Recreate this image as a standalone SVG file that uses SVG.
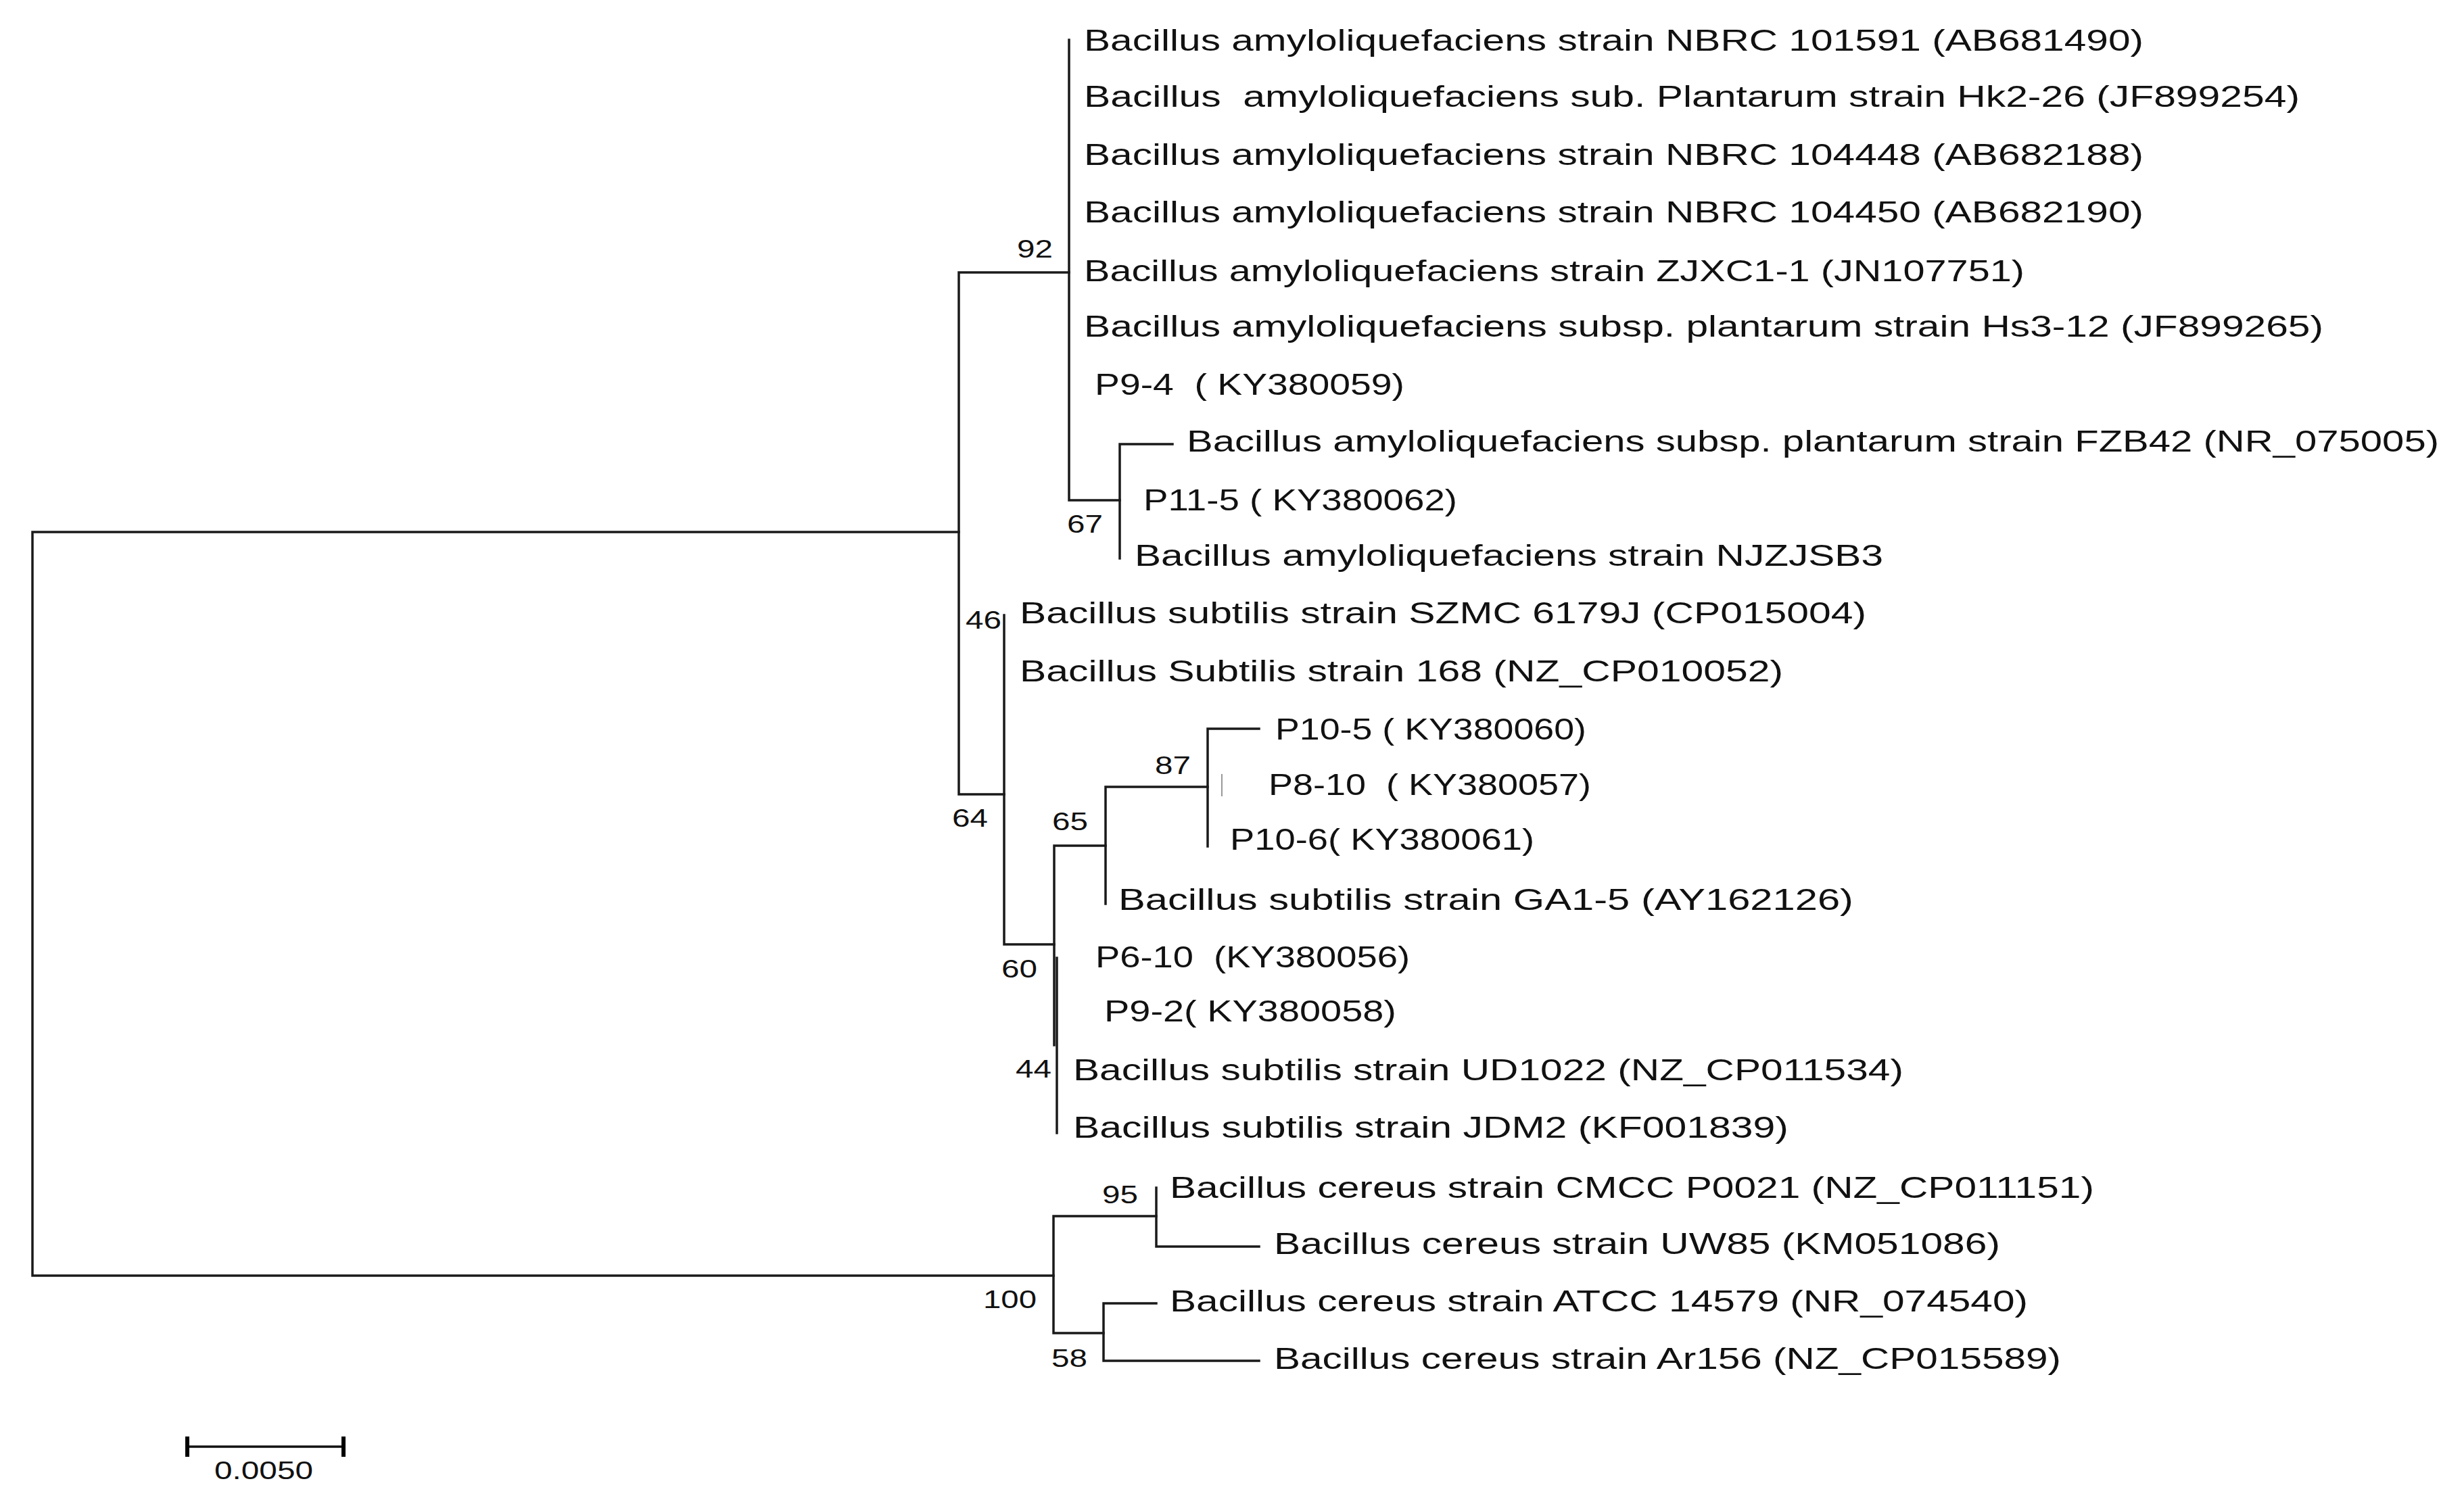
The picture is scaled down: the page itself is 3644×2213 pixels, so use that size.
<svg xmlns="http://www.w3.org/2000/svg" width="3644" height="2213" viewBox="0 0 3644 2213">
<style>
  .br { fill: none; stroke: #1a1a1a; stroke-width: 3.5; stroke-linejoin: miter; stroke-linecap: square; }
  .tick { fill: none; stroke: #999; stroke-width: 2; }
  .leaf { font-family: "Liberation Sans", Arial, sans-serif; font-size: 44px; fill: #111; white-space: pre; }
  .bs { font-family: "Liberation Sans", Arial, sans-serif; font-size: 37.5px; fill: #111; }
  .sb { fill: none; stroke: #111; stroke-width: 3.5; }
  .sbt { fill: none; stroke: #000; stroke-width: 6; }
</style>
<rect x="0" y="0" width="3644" height="2213" fill="#ffffff"/>
<g id="connectors">
  <path class="br" d="M1418,787 H48 V1887 H1558"/>
  <path class="br" d="M1581,403 H1418 V1175 H1485"/>
  <path class="br" d="M1581,59 V740 H1656"/>
  <path class="br" d="M1734,657 H1656 V826"/>
  <path class="br" d="M1485,910 V1397 H1559"/>
  <path class="br" d="M1635,1251 H1559 V1546"/>
  <path class="br" d="M1563,1417 V1676"/>
  <path class="br" d="M1786,1164 H1635 V1337"/>
  <path class="br" d="M1862,1078 H1786 V1252"/>
  <path class="tick" d="M1807,1145 V1178"/>
  <path class="br" d="M1710,1799 H1558 V1972 H1632"/>
  <path class="br" d="M1710,1757 V1844 H1862"/>
  <path class="br" d="M1710,1928 H1632 V2013 H1862"/>
</g>
<g id="leaves" xml:space="preserve">
  <g id="leaf1"><text class="leaf" x="1603" y="75" textLength="1567" lengthAdjust="spacingAndGlyphs">Bacillus amyloliquefaciens strain NBRC 101591 (AB681490)</text></g>
  <g id="leaf2"><text class="leaf" x="1603" y="158" textLength="1798" lengthAdjust="spacingAndGlyphs">Bacillus  amyloliquefaciens sub. Plantarum strain Hk2-26 (JF899254)</text></g>
  <g id="leaf3"><text class="leaf" x="1603" y="244" textLength="1567" lengthAdjust="spacingAndGlyphs">Bacillus amyloliquefaciens strain NBRC 104448 (AB682188)</text></g>
  <g id="leaf4"><text class="leaf" x="1603" y="329" textLength="1567" lengthAdjust="spacingAndGlyphs">Bacillus amyloliquefaciens strain NBRC 104450 (AB682190)</text></g>
  <g id="leaf5"><text class="leaf" x="1603" y="416" textLength="1391" lengthAdjust="spacingAndGlyphs">Bacillus amyloliquefaciens strain ZJXC1-1 (JN107751)</text></g>
  <g id="leaf6"><text class="leaf" x="1603" y="498" textLength="1833" lengthAdjust="spacingAndGlyphs">Bacillus amyloliquefaciens subsp. plantarum strain Hs3-12 (JF899265)</text></g>
  <g id="leaf7"><text class="leaf" x="1619" y="584" textLength="458" lengthAdjust="spacingAndGlyphs">P9-4  ( KY380059)</text></g>
  <g id="leaf8"><text class="leaf" x="1755" y="668" textLength="1852" lengthAdjust="spacingAndGlyphs">Bacillus amyloliquefaciens subsp. plantarum strain FZB42 (NR_075005)</text></g>
  <g id="leaf9"><text class="leaf" x="1691" y="755" textLength="464" lengthAdjust="spacingAndGlyphs">P11-5 ( KY380062)</text></g>
  <g id="leaf10"><text class="leaf" x="1678" y="837" textLength="1107" lengthAdjust="spacingAndGlyphs">Bacillus amyloliquefaciens strain NJZJSB3</text></g>
  <g id="leaf11"><text class="leaf" x="1508" y="922" textLength="1252" lengthAdjust="spacingAndGlyphs">Bacillus subtilis strain SZMC 6179J (CP015004)</text></g>
  <g id="leaf12"><text class="leaf" x="1508" y="1008" textLength="1129" lengthAdjust="spacingAndGlyphs">Bacillus Subtilis strain 168 (NZ_CP010052)</text></g>
  <g id="leaf13"><text class="leaf" x="1886" y="1094" textLength="460" lengthAdjust="spacingAndGlyphs">P10-5 ( KY380060)</text></g>
  <g id="leaf14"><text class="leaf" x="1876" y="1176" textLength="477" lengthAdjust="spacingAndGlyphs">P8-10  ( KY380057)</text></g>
  <g id="leaf15"><text class="leaf" x="1819" y="1257" textLength="450" lengthAdjust="spacingAndGlyphs">P10-6( KY380061)</text></g>
  <g id="leaf16"><text class="leaf" x="1654" y="1346" textLength="1087" lengthAdjust="spacingAndGlyphs">Bacillus subtilis strain GA1-5 (AY162126)</text></g>
  <g id="leaf17"><text class="leaf" x="1620" y="1431" textLength="465" lengthAdjust="spacingAndGlyphs">P6-10  (KY380056)</text></g>
  <g id="leaf18"><text class="leaf" x="1633" y="1511" textLength="432" lengthAdjust="spacingAndGlyphs">P9-2( KY380058)</text></g>
  <g id="leaf19"><text class="leaf" x="1587" y="1598" textLength="1228" lengthAdjust="spacingAndGlyphs">Bacillus subtilis strain UD1022 (NZ_CP011534)</text></g>
  <g id="leaf20"><text class="leaf" x="1587" y="1683" textLength="1058" lengthAdjust="spacingAndGlyphs">Bacillus subtilis strain JDM2 (KF001839)</text></g>
  <g id="leaf21"><text class="leaf" x="1730" y="1772" textLength="1367" lengthAdjust="spacingAndGlyphs">Bacillus cereus strain CMCC P0021 (NZ_CP011151)</text></g>
  <g id="leaf22"><text class="leaf" x="1884" y="1855" textLength="1074" lengthAdjust="spacingAndGlyphs">Bacillus cereus strain UW85 (KM051086)</text></g>
  <g id="leaf23"><text class="leaf" x="1730" y="1940" textLength="1269" lengthAdjust="spacingAndGlyphs">Bacillus cereus strain ATCC 14579 (NR_074540)</text></g>
  <g id="leaf24"><text class="leaf" x="1884" y="2025" textLength="1164" lengthAdjust="spacingAndGlyphs">Bacillus cereus strain Ar156 (NZ_CP015589)</text></g>
</g>
<g id="bootstrap">
  <g id="node92"><text class="bs" x="1504" y="381" textLength="53" lengthAdjust="spacingAndGlyphs">92</text></g>
  <g id="node67"><text class="bs" x="1578" y="788" textLength="53" lengthAdjust="spacingAndGlyphs">67</text></g>
  <g id="node46"><text class="bs" x="1428" y="930" textLength="53" lengthAdjust="spacingAndGlyphs">46</text></g>
  <g id="node64"><text class="bs" x="1408" y="1223" textLength="53" lengthAdjust="spacingAndGlyphs">64</text></g>
  <g id="node87"><text class="bs" x="1708" y="1145" textLength="53" lengthAdjust="spacingAndGlyphs">87</text></g>
  <g id="node65"><text class="bs" x="1556" y="1228" textLength="53" lengthAdjust="spacingAndGlyphs">65</text></g>
  <g id="node60"><text class="bs" x="1481" y="1446" textLength="53" lengthAdjust="spacingAndGlyphs">60</text></g>
  <g id="node44"><text class="bs" x="1502" y="1594" textLength="53" lengthAdjust="spacingAndGlyphs">44</text></g>
  <g id="node95"><text class="bs" x="1630" y="1780" textLength="53" lengthAdjust="spacingAndGlyphs">95</text></g>
  <g id="node100"><text class="bs" x="1454" y="1935" textLength="79" lengthAdjust="spacingAndGlyphs">100</text></g>
  <g id="node58"><text class="bs" x="1555" y="2022" textLength="53" lengthAdjust="spacingAndGlyphs">58</text></g>
</g>
<g id="scalebar">
  <path class="sb" d="M277,2140 H508"/>
  <path class="sbt" d="M277,2125 V2155 M508,2125 V2155"/>
  <text class="bs" x="317" y="2188" font-size="38" textLength="146" lengthAdjust="spacingAndGlyphs">0.0050</text>
</g>
</svg>
